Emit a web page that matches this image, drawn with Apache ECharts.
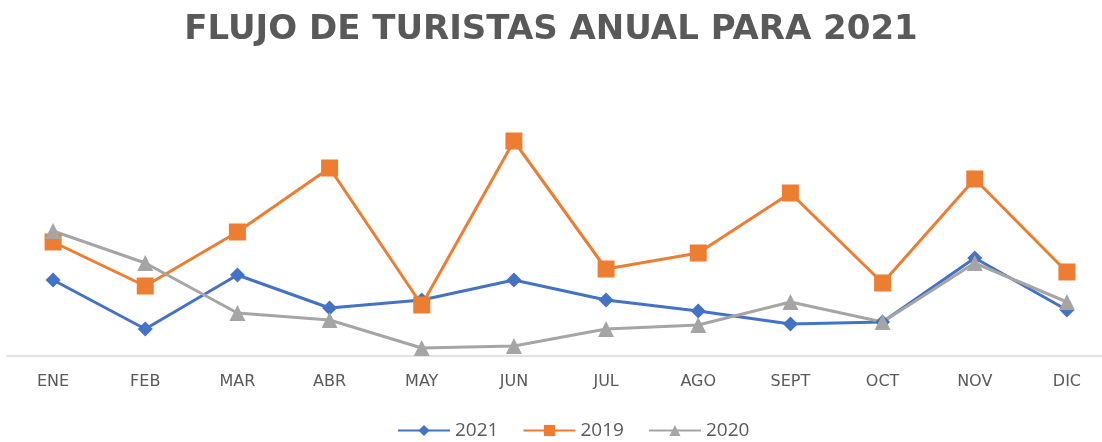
<!DOCTYPE html>
<html>
<head>
<meta charset="utf-8">
<script src="https://cdn.jsdelivr.net/npm/echarts@6/dist/echarts.min.js"></script>
<style>
  html, body { margin: 0; padding: 0; background: #fff; }
  #chart { width: 1102px; height: 442px; }
</style>
</head>
<body>
<div id="chart"></div>
<script>
// meses
const meses = ['ENE', 'FEB', 'MAR', 'ABR', 'MAY', 'JUN', 'JUL', 'AGO', 'SEPT', 'OCT', 'NOV', 'DIC'];

// valores (sin eje Y visible, escala relativa)
const datos2021 = [76, 27, 81, 48, 56, 76, 56, 45, 32, 34, 98, 46];
const datos2019 = [114, 70, 124, 188, 51, 215, 87, 103, 163, 73, 177, 84];
const datos2020 = [125, 93, 43, 36, 8, 10, 27, 31, 54, 34, 93, 54];

const chart = echarts.init(document.getElementById('chart'));

function serie(nombre, datos, color, simbolo, tam) {
    return {
        name: nombre,
        type: 'line',
        data: datos,
        symbol: simbolo,
        symbolSize: tam,
        showAllSymbol: true,
        lineStyle: { color: color, width: 3 },
        itemStyle: { color: color },
        emphasis: { disabled: true }
    };
}

chart.setOption({
    animation: false,
    title: {
        text: 'FLUJO DE TURISTAS ANUAL PARA 2021',
        left: 'center',
        top: 8,
        textStyle: {
            fontFamily: 'DejaVu Sans',
            fontWeight: 'bold',
            fontSize: 34,
            color: '#595959'
        }
    },
    legend: {
        bottom: -3,
        left: 392,
        itemWidth: 52,
        itemHeight: 14,
        itemGap: 24,
        textStyle: { fontFamily: 'Open Sans', fontSize: 19, color: '#595959' },
        data: ['2021', '2019', '2020']
    },
    grid: { left: 7, right: -11, top: 106, bottom: 86, outerBoundsMode: 'none' },
    xAxis: {
        type: 'category',
        data: meses,
        boundaryGap: true,
        axisLine: { lineStyle: { color: '#D9D9D9', width: 1.5 } },
        axisTick: { show: false },
        axisLabel: {
            margin: 18,
            fontFamily: 'DejaVu Sans',
            fontSize: 16,
            color: '#595959'
        }
    },
    yAxis: {
        type: 'value',
        min: 0,
        max: 250,
        show: false,
        splitLine: { show: false }
    },
    series: [
        serie('2021', datos2021, '#4472C4', 'diamond', 15),
        serie('2019', datos2019, '#ED7D31', 'rect', 17),
        serie('2020', datos2020, '#A5A5A5', 'triangle', 16)
    ]
});
</script>
</body>
</html>
